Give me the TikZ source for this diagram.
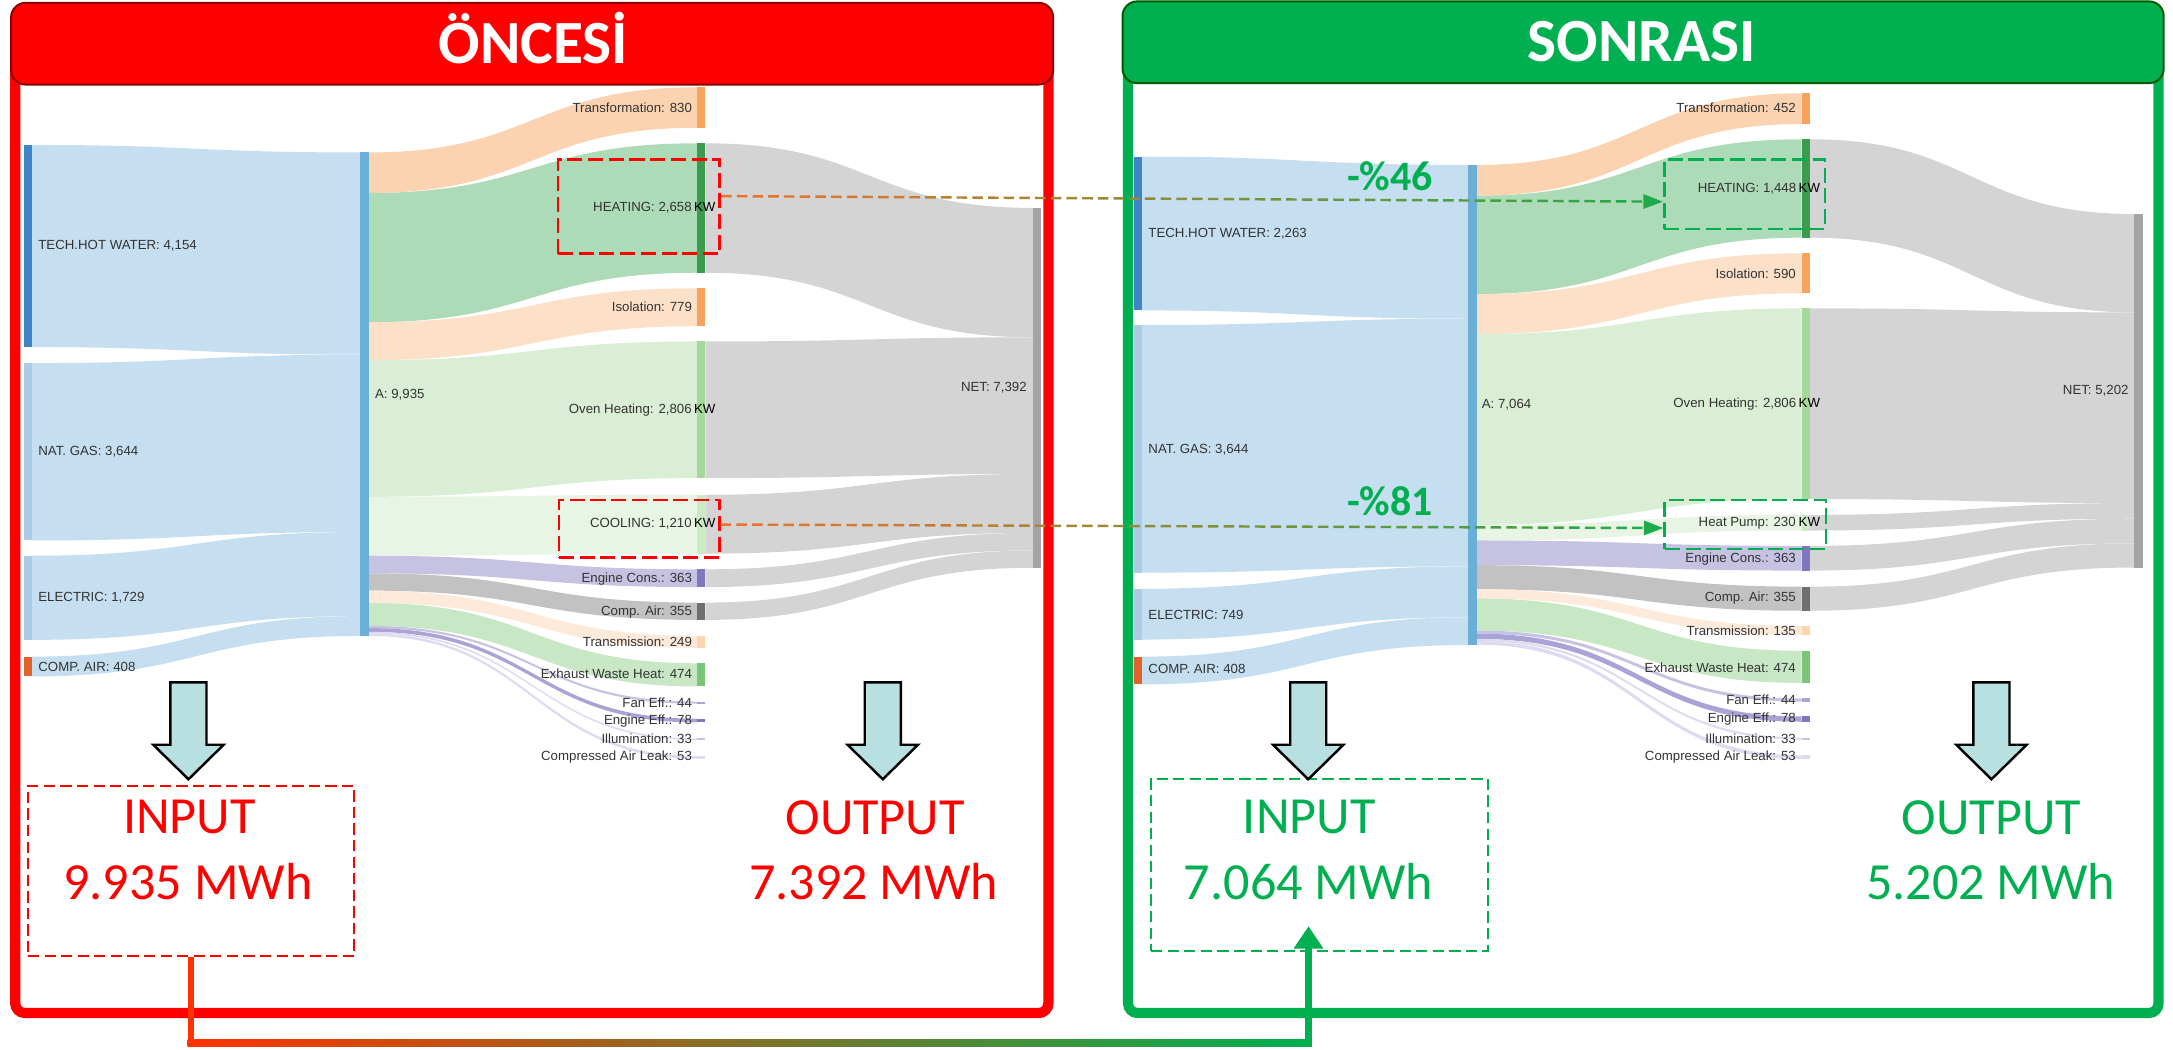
\documentclass[tikz,border=0pt]{standalone}
\usepackage{fontspec}
\setmainfont{Liberation Sans}
\newfontfamily\calibri{Carlito}
\usetikzlibrary{calc,fit,arrows.meta}

\definecolor{redT}{HTML}{FF0000}
\definecolor{greenT}{HTML}{00B050}
\definecolor{redC}{HTML}{FF3300}
\definecolor{arOr}{HTML}{E8742A}
\definecolor{arGr}{HTML}{1FAA4A}
\definecolor{flowBlue}{HTML}{C5DEF0}
\definecolor{nodeBlue}{HTML}{3D85C6}
\definecolor{nodeBlueL}{HTML}{AACCE6}
\definecolor{nodeA}{HTML}{6BAED6}
\definecolor{peach}{HTML}{FCD3B0}
\definecolor{peachL}{HTML}{FDE0C8}
\definecolor{peachLL}{HTML}{FDEADB}
\definecolor{nodeOr}{HTML}{F9A25B}
\definecolor{nodeOrL}{HTML}{FDD5AC}
\definecolor{greenM}{HTML}{ADDAB7}
\definecolor{greenD}{HTML}{3D9B50}
\definecolor{greenL}{HTML}{D9EED4}
\definecolor{greenLL}{HTML}{E8F5E4}
\definecolor{greenN}{HTML}{A5D99C}
\definecolor{greenNL}{HTML}{CBEAC5}
\definecolor{greenE}{HTML}{C7E7C5}
\definecolor{greenEN}{HTML}{79C679}
\definecolor{purpL}{HTML}{C6C2E1}
\definecolor{purpM}{HTML}{A9A3D6}
\definecolor{purpN}{HTML}{7F78BF}
\definecolor{purpLL}{HTML}{DDDBEF}
\definecolor{grayF}{HTML}{C2C2C2}
\definecolor{grayN}{HTML}{6F6F6F}
\definecolor{grayNet}{HTML}{D4D4D4}
\definecolor{grayNetN}{HTML}{A4A4A4}
\definecolor{compOr}{HTML}{E2622B}
\definecolor{arrFill}{HTML}{B8E0E0}
\definecolor{labGray}{HTML}{333333}

% flow band: x1, top1, bottom1, x2, top2, bottom2, colour
\newcommand{\band}[7]{\fill[#7] (#1,#2) .. controls ({(#1+#4)/2},#2) and ({(#1+#4)/2},#5) .. (#4,#5) -- (#4,#6) .. controls ({(#1+#4)/2},#6) and ({(#1+#4)/2},#3) .. (#1,#3) -- cycle;}
% node bar: x, top, bottom, colour
\newcommand{\nbar}[4]{\fill[#4] (#1,#2) rectangle ({#1+6},#3);}

\tikzset{
	lbl/.style={font=\fontsize{2.72}{3}\selectfont, text=labGray, inner sep=0pt},
	bigtxt/.style={font=\calibri\fontsize{10.7}{12}\selectfont, inner sep=0pt},
	title/.style={font=\calibri\bfseries\fontsize{12.6}{14}\selectfont, text=white, inner sep=0pt},
	pct/.style={font=\calibri\bfseries\fontsize{8.6}{10}\selectfont, text=greenT, inner sep=0pt},
	sbox/.style={draw, dash pattern=on 3.1pt off 1.15pt, line width=0.55pt, inner sep=0pt},
	iobox/.style={draw, dash pattern=on 2.3pt off 1.1pt, line width=0.4pt, inner sep=0pt},
	barrow/.style={draw=black, fill=arrFill, line width=0.5pt, line join=miter},
	dasharr/.style={line width=0.5pt, dash pattern=on 2.16pt off 1.07pt},
}

\begin{document}
\begin{tikzpicture}[x=0.01cm, y=-0.01cm]
	\useasboundingbox (0,0) rectangle (1568,757);

	% ONCESI
		% Flujos fuentes -> A
			\band{23}{104.6}{250.5}{260}{110}{255.9}{flowBlue}
			\band{23}{262}{390}{260}{255.9}{383.9}{flowBlue}
			\band{23}{401}{461.7}{260}{383.9}{444.6}{flowBlue}
			\band{23}{473.8}{488.1}{260}{444.6}{458.9}{flowBlue}
		% Flujos A -> consumos
			\band{266}{110}{139.2}{503}{63}{92.2}{peach}
			\band{266}{139.2}{232.5}{503}{103.4}{196.8}{greenM}
			\band{266}{232.5}{259.9}{503}{208}{235.4}{peachL}
			\band{266}{259.9}{358.5}{503}{246.4}{345}{greenL}
			\band{266}{358.5}{401}{503}{357}{399.5}{greenLL}
			\band{266}{401}{413.7}{503}{410.8}{423.6}{purpL}
			\band{266}{413.7}{426.2}{503}{434.8}{447.3}{grayF}
			\band{266}{426.2}{435}{503}{458.8}{467.5}{peachLL}
			\band{266}{435}{451.6}{503}{478.6}{495.3}{greenE}
			\band{266}{451.6}{453.2}{503}{506.2}{507.8}{purpL}
			\band{266}{453.2}{455.9}{503}{518.6}{521.3}{purpM}
			\band{266}{455.9}{457.1}{503}{532.8}{534}{purpLL}
			\band{266}{457.1}{458.9}{503}{545.5}{547.4}{purpLL}
		% Flujos -> NET
			\band{509}{103.4}{196.8}{745.5}{150}{243.4}{grayNet}
			\band{509}{246.4}{345}{745.5}{243.4}{342}{grayNet}
			\band{509}{357}{399.5}{745.5}{342}{384.5}{grayNet}
			\band{509}{410.8}{423.6}{745.5}{384.5}{397.2}{grayNet}
			\band{509}{434.8}{447.3}{745.5}{397.2}{409.7}{grayNet}
		% Barras
			\nbar{17}{104.6}{250.5}{nodeBlue}
			\nbar{17}{262}{390}{nodeBlueL}
			\nbar{17}{401}{461.7}{nodeBlueL}
			\nbar{17}{473.8}{488.1}{compOr}
			\nbar{260}{110}{458.9}{nodeA}
			\nbar{503}{63}{92.2}{nodeOr}
			\nbar{503}{103.4}{196.8}{greenD}
			\nbar{503}{208}{235.4}{nodeOr}
			\nbar{503}{246.4}{345}{greenN}
			\nbar{503}{357}{399.5}{greenNL}
			\nbar{503}{410.8}{423.6}{purpN}
			\nbar{503}{434.8}{447.3}{grayN}
			\nbar{503}{458.8}{467.5}{nodeOrL}
			\nbar{503}{478.6}{495.3}{greenEN}
			\nbar{503}{506.2}{507.8}{purpM}
			\nbar{503}{518.6}{521.3}{purpN}
			\nbar{503}{532.8}{534}{purpL}
			\nbar{503}{545.5}{547.4}{purpLL}
			\nbar{745.5}{150}{409.7}{grayNetN}
		% Etiquetas
			\node[lbl, anchor=west] (lTechL) at (27,177.5) {TECH.HOT WATER: 4,154};
			\node[lbl, anchor=west] (lGasL) at (27,326) {NAT. GAS: 3,644};
			\node[lbl, anchor=west] (lElecL) at (27,431.4) {ELECTRIC: 1,729};
			\node[lbl, anchor=west] (lCompL) at (27,481) {COMP. AIR: 408};
			\node[lbl, anchor=west] (lAL) at (270,285) {A: 9,935};
			\node[lbl, anchor=east] (lTrfL) at (500,77.4) {Transformation: 830};
			\node[lbl, anchor=east] (lHeatL) at (517,150) {HEATING: 2,658\kern0.5pt{\color{black}KW}};
			\node[lbl, anchor=east] (lIsoL) at (500,221) {Isolation: 779};
			\node[lbl, anchor=east] (lOvenL) at (517,296) {Oven Heating: 2,806\kern0.5pt{\color{black}KW}};
			\node[lbl, anchor=east] (lCoolL) at (517,377.6) {COOLING: 1,210\kern0.5pt{\color{black}KW}};
			\node[lbl, anchor=east] (lEngL) at (500,417.5) {Engine Cons.: 363};
			\node[lbl, anchor=east] (lCairL) at (500,441.3) {Comp. Air: 355};
			\node[lbl, anchor=east] (lTrmL) at (500,463.2) {Transmission: 249};
			\node[lbl, anchor=east] (lExhL) at (500,486.5) {Exhaust Waste Heat: 474};
			\node[lbl, anchor=east] (lFanL) at (500,507) {Fan Eff.: 44};
			\node[lbl, anchor=east] (lEeffL) at (500,520) {Engine Eff.: 78};
			\node[lbl, anchor=east] (lIllL) at (500,533.4) {Illumination: 33};
			\node[lbl, anchor=east] (lLeakL) at (500,546.4) {Compressed Air Leak: 53};
			\node[lbl, anchor=east] (lNetL) at (741.5,280) {NET: 7,392};
		% Cajas
			\node[sbox, redT, fit={(402.6,115) (519.4,183)}] (hbL) {};
			\node[sbox, redT, fit={(403.3,360.7) (519,402.1)}] (cbL) {};
			\node[iobox, redT, fit={(20.2,567) (255.5,689.8)}] (inL) {};
			\node[bigtxt, text=redT] (inLt) at (136.6,589.8) {INPUT};
			\node[bigtxt, text=redT] (inLv) at (135.6,636.1) {9.935 MWh};
			\node[bigtxt, text=redT] (outLt) at (631.5,589.8) {OUTPUT};
			\node[bigtxt, text=redT] (outLv) at (630.5,636) {7.392 MWh};
		% Marco
			\draw[redT, line width=2.1pt, rounded corners=2pt] (11,40) rectangle (756.5,731);
			\draw[fill=redT, draw=red!55!black, line width=0.4pt, rounded corners=3pt] (8,2) rectangle (760,61);
			\node[title] (titL) at (385,27.7) {ÖNCESİ};

	% SONRASI
		% Flujos fuentes -> A
			\band{824}{113}{224}{1059.5}{119}{230}{flowBlue}
			\band{824}{234.5}{413.2}{1059.5}{230}{408.7}{flowBlue}
			\band{824}{424.8}{461.5}{1059.5}{408.7}{445.4}{flowBlue}
			\band{824}{473.8}{493.8}{1059.5}{445.4}{465.4}{flowBlue}
		% Flujos A -> consumos
			\band{1065.5}{119}{141.2}{1300}{67.3}{89.5}{peach}
			\band{1065.5}{141.2}{212.2}{1300}{100.5}{171.5}{greenM}
			\band{1065.5}{212.2}{241.1}{1300}{182.8}{211.7}{peachL}
			\band{1065.5}{241.1}{378.7}{1300}{222.5}{360.1}{greenL}
			\band{1065.5}{378.7}{390}{1300}{371.5}{382.8}{greenLL}
			\band{1065.5}{390}{407.8}{1300}{393.9}{411.7}{purpL}
			\band{1065.5}{407.8}{425.2}{1300}{423.3}{440.7}{grayF}
			\band{1065.5}{425.2}{431.8}{1300}{451.6}{458.2}{peachLL}
			\band{1065.5}{431.8}{455}{1300}{469.6}{492.8}{greenE}
			\band{1065.5}{455}{457.2}{1300}{504}{506.2}{purpL}
			\band{1065.5}{457.2}{461}{1300}{517}{520.8}{purpM}
			\band{1065.5}{461}{462.6}{1300}{532.2}{533.8}{purpLL}
			\band{1065.5}{462.6}{465.2}{1300}{545}{547.6}{purpLL}
		% Flujos -> NET
			\band{1306}{100.5}{171.5}{1540}{154.4}{225.4}{grayNet}
			\band{1306}{222.5}{360.1}{1540}{225.4}{363}{grayNet}
			\band{1306}{371.5}{382.8}{1540}{363}{374.3}{grayNet}
			\band{1306}{393.9}{411.7}{1540}{374.3}{392.1}{grayNet}
			\band{1306}{423.3}{440.7}{1540}{392.1}{409.5}{grayNet}
		% Barras
			\nbar{818}{113}{224}{nodeBlue}
			\nbar{818}{234.5}{413.2}{nodeBlueL}
			\nbar{818}{424.8}{461.5}{nodeBlueL}
			\nbar{818}{473.8}{493.8}{compOr}
			\nbar{1059.5}{119}{465.4}{nodeA}
			\nbar{1300}{67.3}{89.5}{nodeOr}
			\nbar{1300}{100.5}{171.5}{greenD}
			\nbar{1300}{182.8}{211.7}{nodeOr}
			\nbar{1300}{222.5}{360.1}{greenN}
			\nbar{1300}{371.5}{382.8}{greenNL}
			\nbar{1300}{393.9}{411.7}{purpN}
			\nbar{1300}{423.3}{440.7}{grayN}
			\nbar{1300}{451.6}{458.2}{nodeOrL}
			\nbar{1300}{469.6}{492.8}{greenEN}
			\nbar{1300}{504}{506.2}{purpM}
			\nbar{1300}{517}{520.8}{purpN}
			\nbar{1300}{532.2}{533.8}{purpL}
			\nbar{1300}{545}{547.6}{purpLL}
			\nbar{1540}{154.4}{409.5}{grayNetN}
		% Etiquetas
			\node[lbl, anchor=west] (lTechR) at (828,168.3) {TECH.HOT WATER: 2,263};
			\node[lbl, anchor=west] (lGasR) at (828,324.7) {NAT. GAS: 3,644};
			\node[lbl, anchor=west] (lElecR) at (828,443.7) {ELECTRIC: 749};
			\node[lbl, anchor=west] (lCompR) at (828,483) {COMP. AIR: 408};
			\node[lbl, anchor=west] (lAR) at (1068.6,292.2) {A: 7,064};
			\node[lbl, anchor=east] (lTrfR) at (1296.5,78) {Transformation: 452};
			\node[lbl, anchor=east] (lHeatR) at (1314,136.4) {HEATING: 1,448\kern0.5pt{\color{black}KW}};
			\node[lbl, anchor=east] (lIsoR) at (1296.5,197.2) {Isolation: 590};
			\node[lbl, anchor=east] (lOvenR) at (1314,291.7) {Oven Heating: 2,806\kern0.5pt{\color{black}KW}};
			\node[lbl, anchor=east] (lPumpR) at (1314,377.6) {Heat Pump: 230\kern0.6pt{\color{black}KW}};
			\node[lbl, anchor=east] (lEngR) at (1296.5,403.5) {Engine Cons.: 363};
			\node[lbl, anchor=east] (lCairR) at (1296.5,431.7) {Comp. Air: 355};
			\node[lbl, anchor=east] (lTrmR) at (1296.5,455.3) {Transmission: 135};
			\node[lbl, anchor=east] (lExhR) at (1296.5,481.5) {Exhaust Waste Heat: 474};
			\node[lbl, anchor=east] (lFanR) at (1296.5,505) {Fan Eff.: 44};
			\node[lbl, anchor=east] (lEeffR) at (1296.5,519) {Engine Eff.: 78};
			\node[lbl, anchor=east] (lIllR) at (1296.5,533) {Illumination: 33};
			\node[lbl, anchor=east] (lLeakR) at (1296.5,546.2) {Compressed Air Leak: 53};
			\node[lbl, anchor=east] (lNetR) at (1536.6,281.9) {NET: 5,202};
			\node[pct] (p46) at (1003,127.4) {-\%46};
			\node[pct] (p81) at (1003,362) {-\%81};
		% Cajas
			\node[sbox, greenT, fit={(1200.9,115) (1317,165.2)}] (hbR) {};
			\node[sbox, greenT, fit={(1201.3,360.7) (1317.5,396.1)}] (cbR) {};
			\node[iobox, greenT, fit={(830.6,561.8) (1073.5,685.9)}] (inR) {};
			\node[bigtxt, text=greenT] (inRt) at (944.7,589.8) {INPUT};
			\node[bigtxt, text=greenT] (inRv) at (944.2,636) {7.064 MWh};
			\node[bigtxt, text=greenT] (outRt) at (1436.9,589.8) {OUTPUT};
			\node[bigtxt, text=greenT] (outRv) at (1436.4,636) {5.202 MWh};
		% Marco
			\draw[greenT, line width=2.1pt, rounded corners=2pt] (814,40) rectangle (1557.6,731);
			\draw[fill=greenT, draw=green!35!black, line width=0.4pt, rounded corners=3pt] (810,1) rectangle (1561.3,60);
			\node[title] (titR) at (1184.7,30) {SONRASI};

	% Flechas hacia abajo
		\foreach \x in {136,637,944,1437}
			\draw[barrow] (\x-13,492.4) -- (\x+13,492.4) -- (\x+13,537.4) -- (\x+25.4,537.4) -- (\x,562.3) -- (\x-25.4,537.4) -- (\x-13,537.4) -- cycle;

	% Flechas punteadas
		\coordinate (hA) at (hbL.east |- 0,141.5);
		\coordinate (hB) at (hbR.west |- 0,145.5);
		\coordinate (cA) at (cbL.east |- 0,378.5);
		\coordinate (cB) at (cbR.west |- 0,381);
		\foreach \i [evaluate=\i as \p using int(100-5*\i)] in {0,...,18} {
			\draw[dasharr, arOr!\p!arGr] ($(hA)!\i/20!(hB)$) -- ($(hA)!\i/20+0.05!(hB)$);
			\draw[dasharr, arOr!\p!arGr] ($(cA)!\i/20!(cB)$) -- ($(cA)!\i/20+0.05!(cB)$);
		}
		\draw[dasharr, arGr, -{Triangle[length=4pt, width=2.9pt]}] ($(hA)!0.95!(hB)$) -- (hB);
		\draw[dasharr, arGr, -{Triangle[length=4pt, width=2.9pt]}] ($(cA)!0.95!(cB)$) -- (cB);

	% Conector INPUT -> INPUT
		\coordinate (cnL) at (inL.south |- 0,752.5);
		\coordinate (cnR) at (944.2,752.5);
		\coordinate (tipR) at (944.2,668.3);
		\draw[redC, line width=1.42pt] (inL.south) -- (cnL);
		\shade[left color=redC, right color=greenT] ($(cnL)+(-2.5,-2.5)$) rectangle ($(cnR)+(2.5,2.5)$);
		\draw[greenT, line width=1.42pt, -{Triangle[length=4.6pt, width=5.8pt]}] (cnR) -- (tipR);
\end{tikzpicture}
\end{document}
